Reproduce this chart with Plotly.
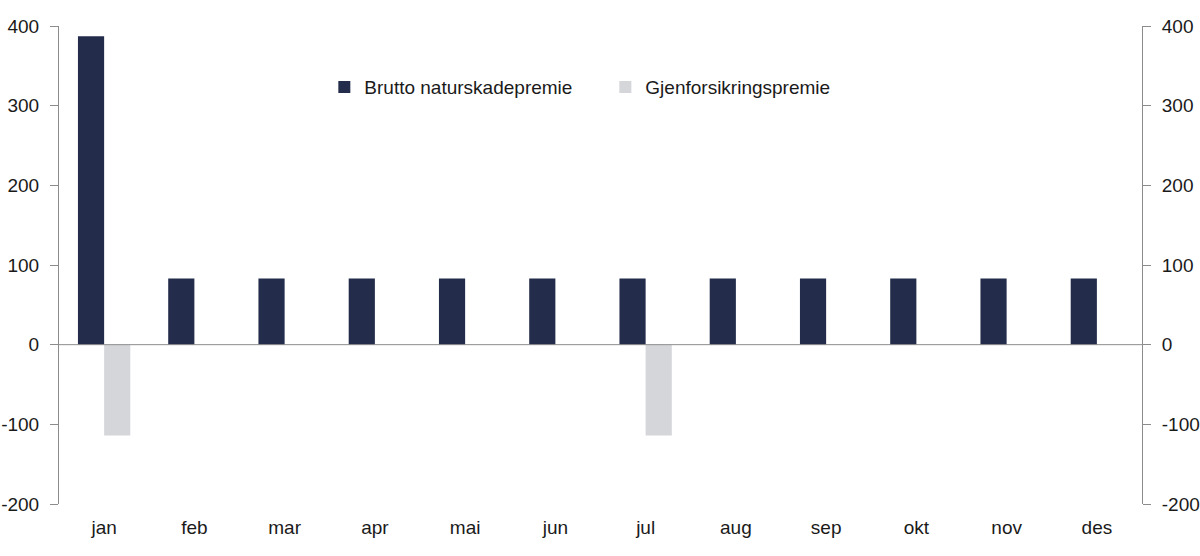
import plotly.graph_objects as go

months = ["jan", "feb", "mar", "apr", "mai", "jun", "jul", "aug", "sep", "okt", "nov", "des"]
brutto = [387, 83, 83, 83, 83, 83, 83, 83, 83, 83, 83, 83]
gjenfors = [-114, None, None, None, None, None, -114, None, None, None, None, None]
y_ticks = [-200, -100, 0, 100, 200, 300, 400]
y_ticktext = ["-200", "-100", "0", "100", "200", "300", "400"]

NAVY = "#232d4b"
GREY = "#d5d6da"
FONT = "Liberation Sans, Arial, sans-serif"

fig = go.Figure()
fig.add_trace(go.Bar(x=months, y=brutto, name="Brutto naturskadepremie",
                     marker=dict(color=NAVY, line=dict(width=0))))
fig.add_trace(go.Bar(x=months, y=gjenfors, name="Gjenforsikringspremie",
                     marker=dict(color=GREY, line=dict(width=0))))
fig.add_trace(go.Scatter(x=months, y=[None] * len(months), yaxis="y2",
                         showlegend=False, hoverinfo="skip", mode="lines"))

axis_common = dict(range=[-200, 400], tickvals=y_ticks, ticktext=y_ticktext,
                   showgrid=False, automargin=False,
                   zeroline=False, showline=True, linecolor="#8c8c8c", linewidth=1,
                   ticks="outside", ticklen=8, tickcolor="#8c8c8c",
                   ticklabelstandoff=7,
                   tickfont=dict(family=FONT, size=19, color="#1a1a1a"))

fig.update_layout(
    width=1200, height=556,
    margin=dict(l=59, r=58, t=26, b=52),
    paper_bgcolor="white", plot_bgcolor="white",
    barmode="group", bargap=0.42, bargroupgap=0,
    font=dict(family=FONT, size=19, color="#1a1a1a"),
    xaxis=dict(showgrid=False, zeroline=False, showline=False, ticks="outside",
               ticklen=6, tickcolor="rgba(0,0,0,0)", automargin=False,
               tickfont=dict(family=FONT, size=19, color="#1a1a1a")),
    yaxis=dict(**axis_common, side="left"),
    yaxis2=dict(**axis_common, side="right", overlaying="y", anchor="x"),
    shapes=[dict(type="line", xref="paper", yref="y", x0=0, x1=1, y0=0, y1=0,
                 line=dict(color="#8c8c8c", width=1))],
    legend=dict(orientation="h", x=0.245, y=0.872, xanchor="left", yanchor="middle",
                bgcolor="rgba(0,0,0,0)", font=dict(family=FONT, size=19, color="#1a1a1a"),
                entrywidth=236, entrywidthmode="pixels", itemsizing="constant"),
    showlegend=True,
)

# remove the browser's default 8px page margin so the figure fills the window
fig.write_html("out.html",
               config={"displayModeBar": False},
               post_script="document.body.style.margin='0';document.body.style.overflow='hidden';")
